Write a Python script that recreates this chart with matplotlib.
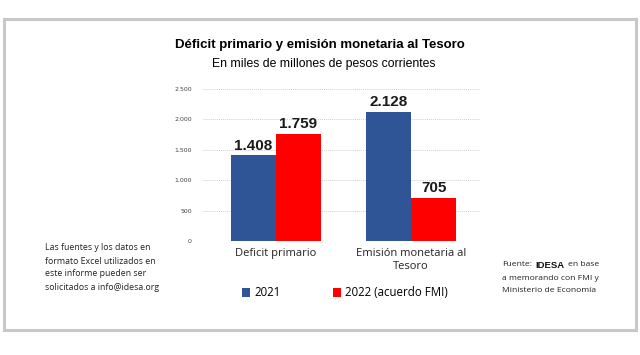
import matplotlib
matplotlib.use("Agg")
import matplotlib.pyplot as plt
from matplotlib.patches import Rectangle

categories = ["Deficit primario", "Emisión monetaria al\nTesoro"]
series_names = ["2021", "2022 (acuerdo FMI)"]
values_2021 = [1408, 2128]
values_2022 = [1759, 705]
yticks = [0, 500, 1000, 1500, 2000, 2500]

note_lines = ["Las fuentes y los datos en", "formato Excel utilizados en",
              "este informe pueden ser", "solicitados a info@idesa.org"]
source_lines = ["a memorando con FMI y", "Ministerio de Economía"]

blue = "#2F5597"
red = "#FF0000"

W, H = 640, 355
fig = plt.figure(figsize=(6.4, 3.55), dpi=100)
fig.patch.set_facecolor("white")

# outer gray frame
fig.add_artist(Rectangle((4 / W, 1 - 330 / H), 632 / W, 311 / H, transform=fig.transFigure,
                         fill=False, edgecolor="#c8c8c8", linewidth=2.2))

ax = fig.add_axes([203 / W, 1 - 241 / H, 277 / W, 152 / H])
x = range(len(categories))
bw = 0.333
b1 = ax.bar([i - bw / 2 for i in x], values_2021, bw, color=blue, zorder=3)
b2 = ax.bar([i + bw / 2 for i in x], values_2022, bw, color=red, zorder=3)

for bars, vals in ((b1, values_2021), (b2, values_2022)):
    for b, v in zip(bars, vals):
        ax.text(b.get_x() + b.get_width() / 2, v + 45, f"{v:,}".replace(",", "."),
                ha="center", va="bottom", fontsize=11, fontweight="bold",
                family="Liberation Sans", color="#1a1a1a")

ax.set_xlim(-0.54, 1.51)
ax.set_ylim(0, 2500)
ax.set_yticks(yticks)
ax.set_yticklabels([f"{t:,}".replace(",", ".") for t in yticks], fontsize=4.5, color="#444444")
ax.set_xticks(list(x))
ax.set_xticklabels(categories, fontsize=8, family="Open Sans", color="#222222")
ax.tick_params(axis="both", length=0)
ax.tick_params(axis="y", pad=8)
ax.tick_params(axis="x", pad=5)
ax.grid(axis="y", color="#d0d0d0", linestyle=(0, (1, 1)), linewidth=0.7, zorder=0)
for s in ax.spines.values():
    s.set_visible(False)

fig.legend([b1, b2], series_names, loc="center", bbox_to_anchor=(345 / W, 1 - 293 / H),
           ncol=2, frameon=False, handlelength=0.7, handleheight=0.7, columnspacing=4.5,
           handletextpad=0.4, prop={"family": "Open Sans", "size": 8.3})

fig.text(320 / W, 1 - 45 / H, "Déficit primario y emisión monetaria al Tesoro", ha="center", va="center",
         fontsize=9.5, fontweight="bold", family="Liberation Sans")
fig.text(324 / W, 1 - 64 / H, "En miles de millones de pesos corrientes", ha="center", va="center",
         fontsize=8.8, family="Liberation Sans")

# left note, one line every 13 px
for k, line in enumerate(note_lines):
    fig.text(45 / W, 1 - (248 + 13 * k) / H, line, ha="left", va="center", fontsize=6.3,
             family="Open Sans", color="#222222")

# source note: "Fuente:" + bold "IDESA" + rest, chained by text extents
t1 = fig.text(502 / W, 1 - 265 / H, "Fuente:", ha="left", va="center", fontsize=6.1,
              family="Open Sans", color="#222222")
t2 = fig.add_artist(plt.Annotation("IDESA", xy=(1, 0.5), xycoords=t1, xytext=(2.5, 0),
                                   textcoords="offset points", ha="left", va="center",
                                   fontsize=6.8, fontweight="bold", family="Liberation Sans",
                                   color="#111111"))
fig.add_artist(plt.Annotation("en base", xy=(1, 0.5), xycoords=t2, xytext=(2.5, 0),
                              textcoords="offset points", ha="left", va="center",
                              fontsize=6.1, family="Open Sans", color="#222222"))
for k, line in enumerate(source_lines):
    fig.text(502 / W, 1 - (278 + 13 * k) / H, line, ha="left", va="center", fontsize=6.1,
             family="Open Sans", color="#222222")

fig.savefig("out.png", dpi=100, facecolor="white")
